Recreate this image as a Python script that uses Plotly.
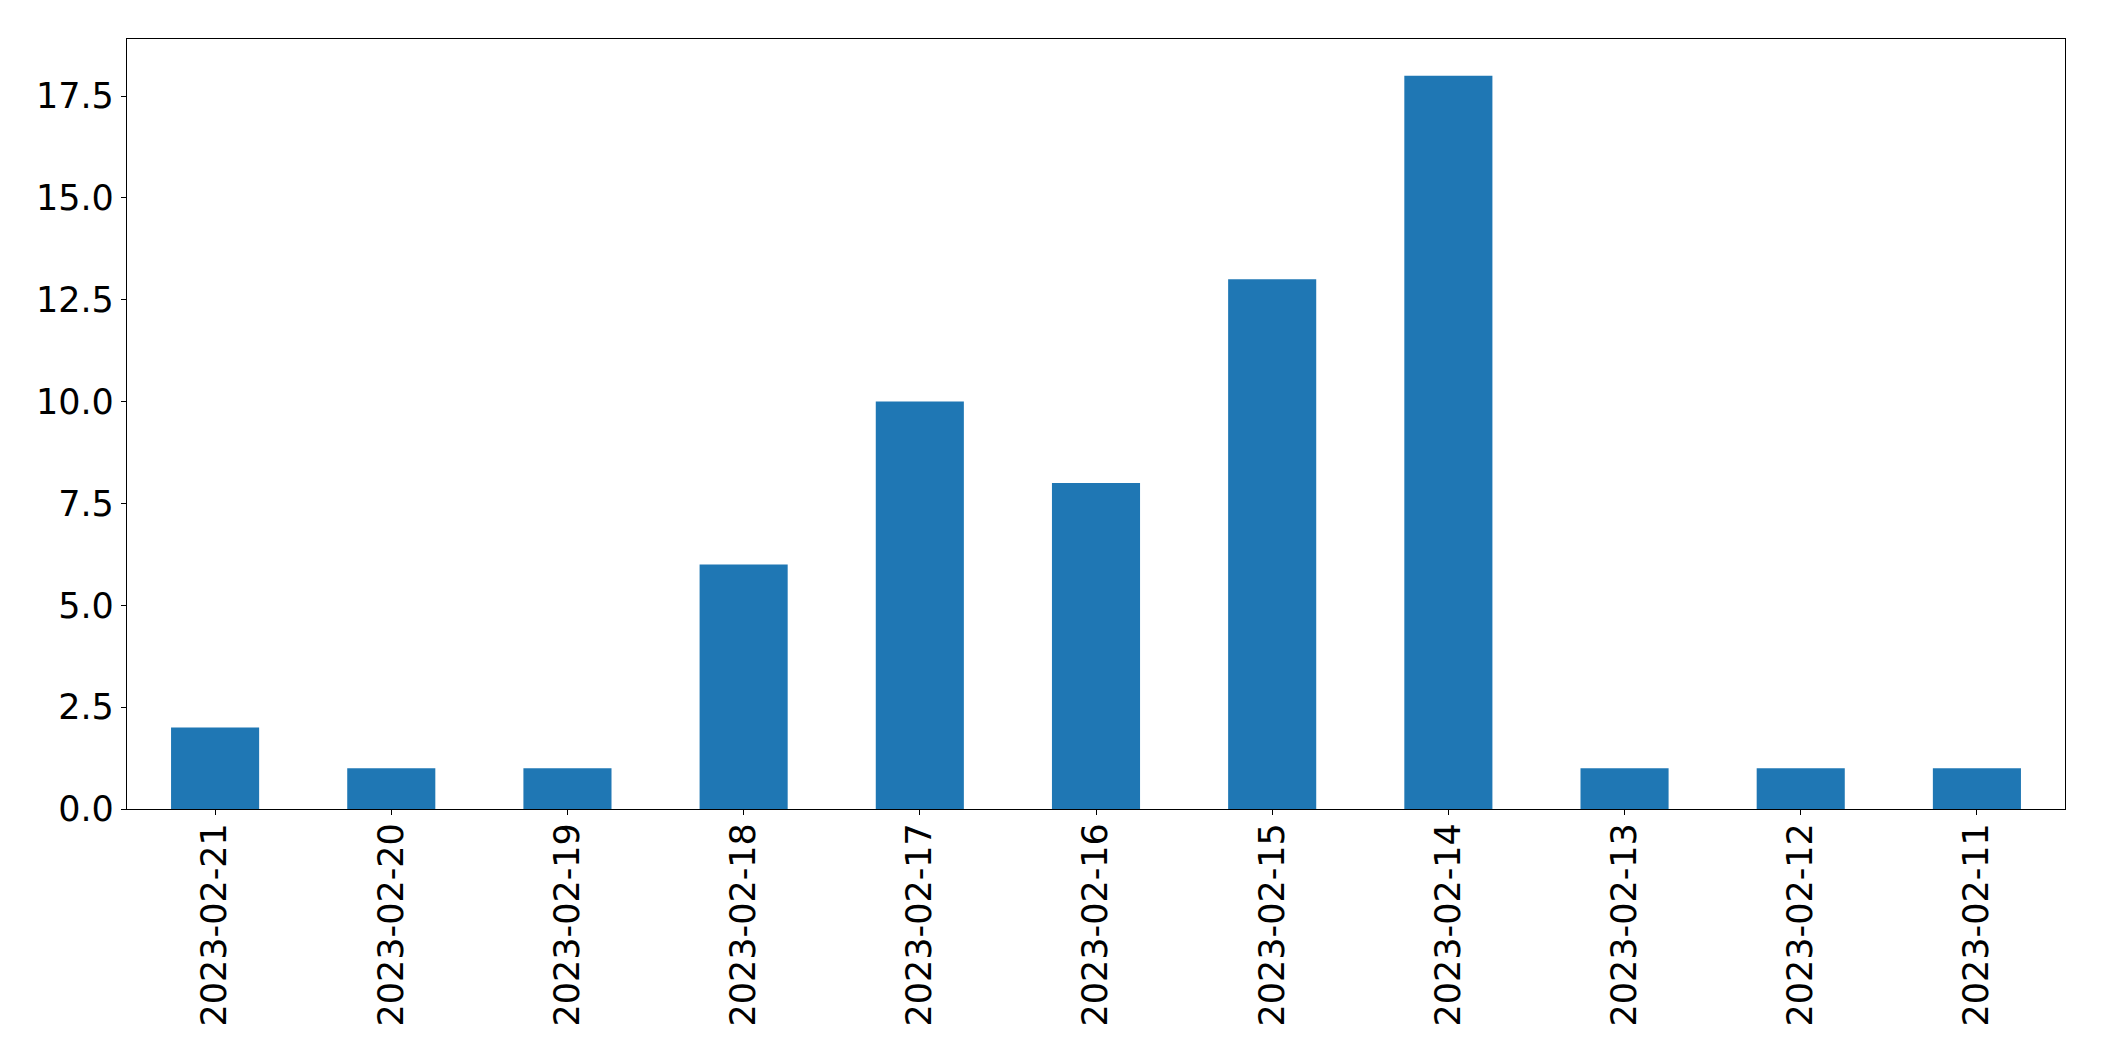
import plotly.graph_objects as go

categories = ["2023-02-21", "2023-02-20", "2023-02-19", "2023-02-18", "2023-02-17",
              "2023-02-16", "2023-02-15", "2023-02-14", "2023-02-13", "2023-02-12", "2023-02-11"]
counts = [2, 1, 1, 6, 10, 8, 13, 18, 1, 1, 1]
y_ticks = [0, 2.5, 5, 7.5, 10, 12.5, 15, 17.5]

fig = go.Figure(go.Bar(x=list(range(len(categories))), y=counts, width=0.5,
                       marker=dict(color="#1f77b4", line=dict(width=0))))

fig.update_layout(
    width=2104, height=1061,
    margin=dict(l=127, r=39, t=39, b=252),
    paper_bgcolor="white", plot_bgcolor="white",
    font=dict(family="DejaVu Sans", size=35, color="black"),
    showlegend=False,
)
fig.update_xaxes(range=[-0.5, len(categories) - 0.5], tickmode="array",
                 tickvals=list(range(len(categories))), ticktext=categories,
                 tickangle=-90, showline=True, mirror=True, linecolor="black", linewidth=1.3,
                 ticks="outside", ticklen=5, tickwidth=1.3, tickcolor="black",
                 ticklabelstandoff=-6,
                 showgrid=False, zeroline=False)
fig.update_yaxes(range=[0, 18.9], tickmode="array", tickvals=y_ticks,
                 ticktext=[f"{v:.1f}" for v in y_ticks],
                 showline=True, mirror=True, linecolor="black", linewidth=1.3,
                 ticks="outside", ticklen=5, tickwidth=1.3, tickcolor="black",
                 showgrid=False, zeroline=False)

fig.write_html("out.html", config={"displayModeBar": False})

with open("out.html", encoding="utf-8") as f:
    html = f.read()
html = html.replace("<body>", '<body style="margin:0;padding:0;overflow:hidden">', 1)
with open("out.html", "w", encoding="utf-8") as f:
    f.write(html)
